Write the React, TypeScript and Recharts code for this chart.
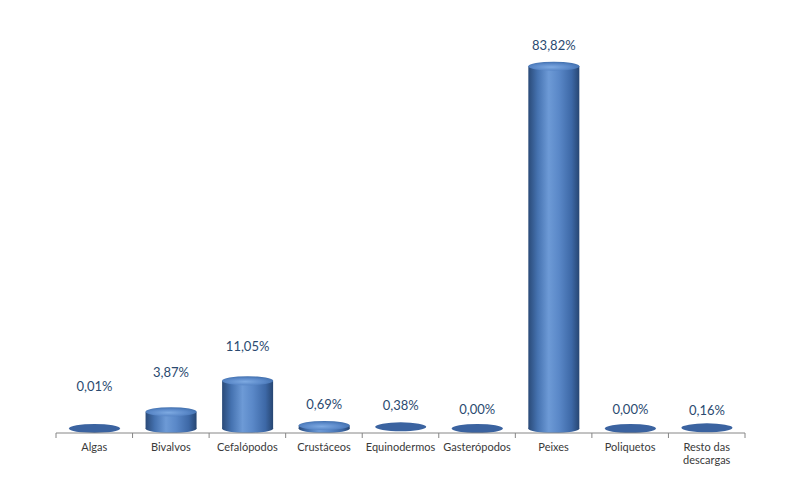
import React from "react";
import { BarChart, Bar, XAxis, YAxis, LabelList } from "recharts";

const categories = [
  "Algas",
  "Bivalvos",
  "Cefalópodos",
  "Crustáceos",
  "Equinodermos",
  "Gasterópodos",
  "Peixes",
  "Poliquetos",
  "Resto das descargas",
];
const shares = [0.01, 3.87, 11.05, 0.69, 0.38, 0.0, 83.82, 0.0, 0.16];

// label lift above the cylinder top (style)
const labelLift = [42, 40, 35, 22, 22, 20, 21, 20, 18];

const data = categories.map((c, i) => ({ name: c, value: shares[i] }));

const W = 800;
const H = 488;
const M = { top: 44, right: 55, bottom: 25, left: 56 };
const PLOT_W = W - M.left - M.right;
const BAND = PLOT_W / categories.length;
const RY = 4.5;

const fmt = (v: number) => v.toFixed(2).replace(".", ",") + "%";

function Cylinder(props: any) {
  const { x, y, width, height, index } = props;
  if (x == null || y == null) return null;
  const cx = x + width / 2;
  const rx = width / 2;
  const topY = y - RY;
  const botY = y + height - RY;
  const id = `cyl${index}`;
  const flat = height < 2;
  return (
    <g>
      <defs>
        <linearGradient id={`${id}b`} x1="0" y1="0" x2="1" y2="0">
          <stop offset="0%" stopColor="#2a4a78" />
          <stop offset="18%" stopColor="#4572b0" />
          <stop offset="40%" stopColor="#6d9ad6" />
          <stop offset="60%" stopColor="#5a88c8" />
          <stop offset="85%" stopColor="#3d68a6" />
          <stop offset="100%" stopColor="#274672" />
        </linearGradient>
        <radialGradient id={`${id}t`} cx="0.45" cy="0.6" r="0.6">
          <stop offset="0%" stopColor="#7eaae2" />
          <stop offset="60%" stopColor="#5b89c9" />
          <stop offset="100%" stopColor="#4270ae" />
        </radialGradient>
      </defs>
      {!flat && (
        <>
          <ellipse cx={cx} cy={botY} rx={rx} ry={RY} fill={`url(#${id}b)`} />
          <rect x={x} y={topY} width={width} height={botY - topY} fill={`url(#${id}b)`} />
        </>
      )}
      <ellipse
        cx={cx}
        cy={topY}
        rx={rx}
        ry={RY}
        fill={flat ? "#3b63a0" : `url(#${id}t)`}
      />
    </g>
  );
}

function ValueLabel(props: any) {
  const { x, y, width, index, value } = props;
  const cx = x + width / 2;
  const ty = y - RY - labelLift[index];
  return (
    <text
      x={cx}
      y={ty}
      textAnchor="middle"
      dominantBaseline="central"
      fontFamily="Lato, 'Open Sans', sans-serif"
      fontSize={13}
      fill="#2b4a70"
    >
      {fmt(value)}
    </text>
  );
}

function wrap(text: string, max: number) {
  const words = text.split(" ");
  const lines: string[] = [];
  let cur = "";
  for (const w of words) {
    const next = cur ? cur + " " + w : w;
    if (next.length > max && cur) {
      lines.push(cur);
      cur = w;
    } else cur = next;
  }
  if (cur) lines.push(cur);
  return lines;
}

function CatTick(props: any) {
  const { x, y, payload, index } = props;
  const lines = wrap(String(payload.value), 12);
  const last = index === categories.length - 1;
  return (
    <g>
      <line x1={x - BAND / 2} y1={y} x2={x - BAND / 2} y2={y + 5} stroke="#868686" />
      {last && <line x1={x + BAND / 2} y1={y} x2={x + BAND / 2} y2={y + 5} stroke="#868686" />}
      <text
        textAnchor="middle"
        fontFamily="Lato, 'Open Sans', sans-serif"
        fontSize={11}
        fill="#3a3a3a"
      >
        {lines.map((l, i) => (
          <tspan key={i} x={x} y={y + 18 + i * 13}>
            {l}
          </tspan>
        ))}
      </text>
    </g>
  );
}

export default function App() {
  return (
    <div style={{ position: "absolute", left: 0, top: 0, background: "#fff" }}>
      <BarChart width={W} height={H} data={data} margin={M}>
        <XAxis
          dataKey="name"
          interval={0}
          height={30}
          tickLine={false}
          tickSize={0}
          tickMargin={0}
          axisLine={{ stroke: "#868686" }}
          tick={<CatTick />}
        />
        <YAxis hide domain={[0, 90]} />
        <Bar dataKey="value" barSize={51} shape={<Cylinder />} isAnimationActive={false}>
          <LabelList dataKey="value" content={<ValueLabel />} />
        </Bar>
      </BarChart>
    </div>
  );
}
